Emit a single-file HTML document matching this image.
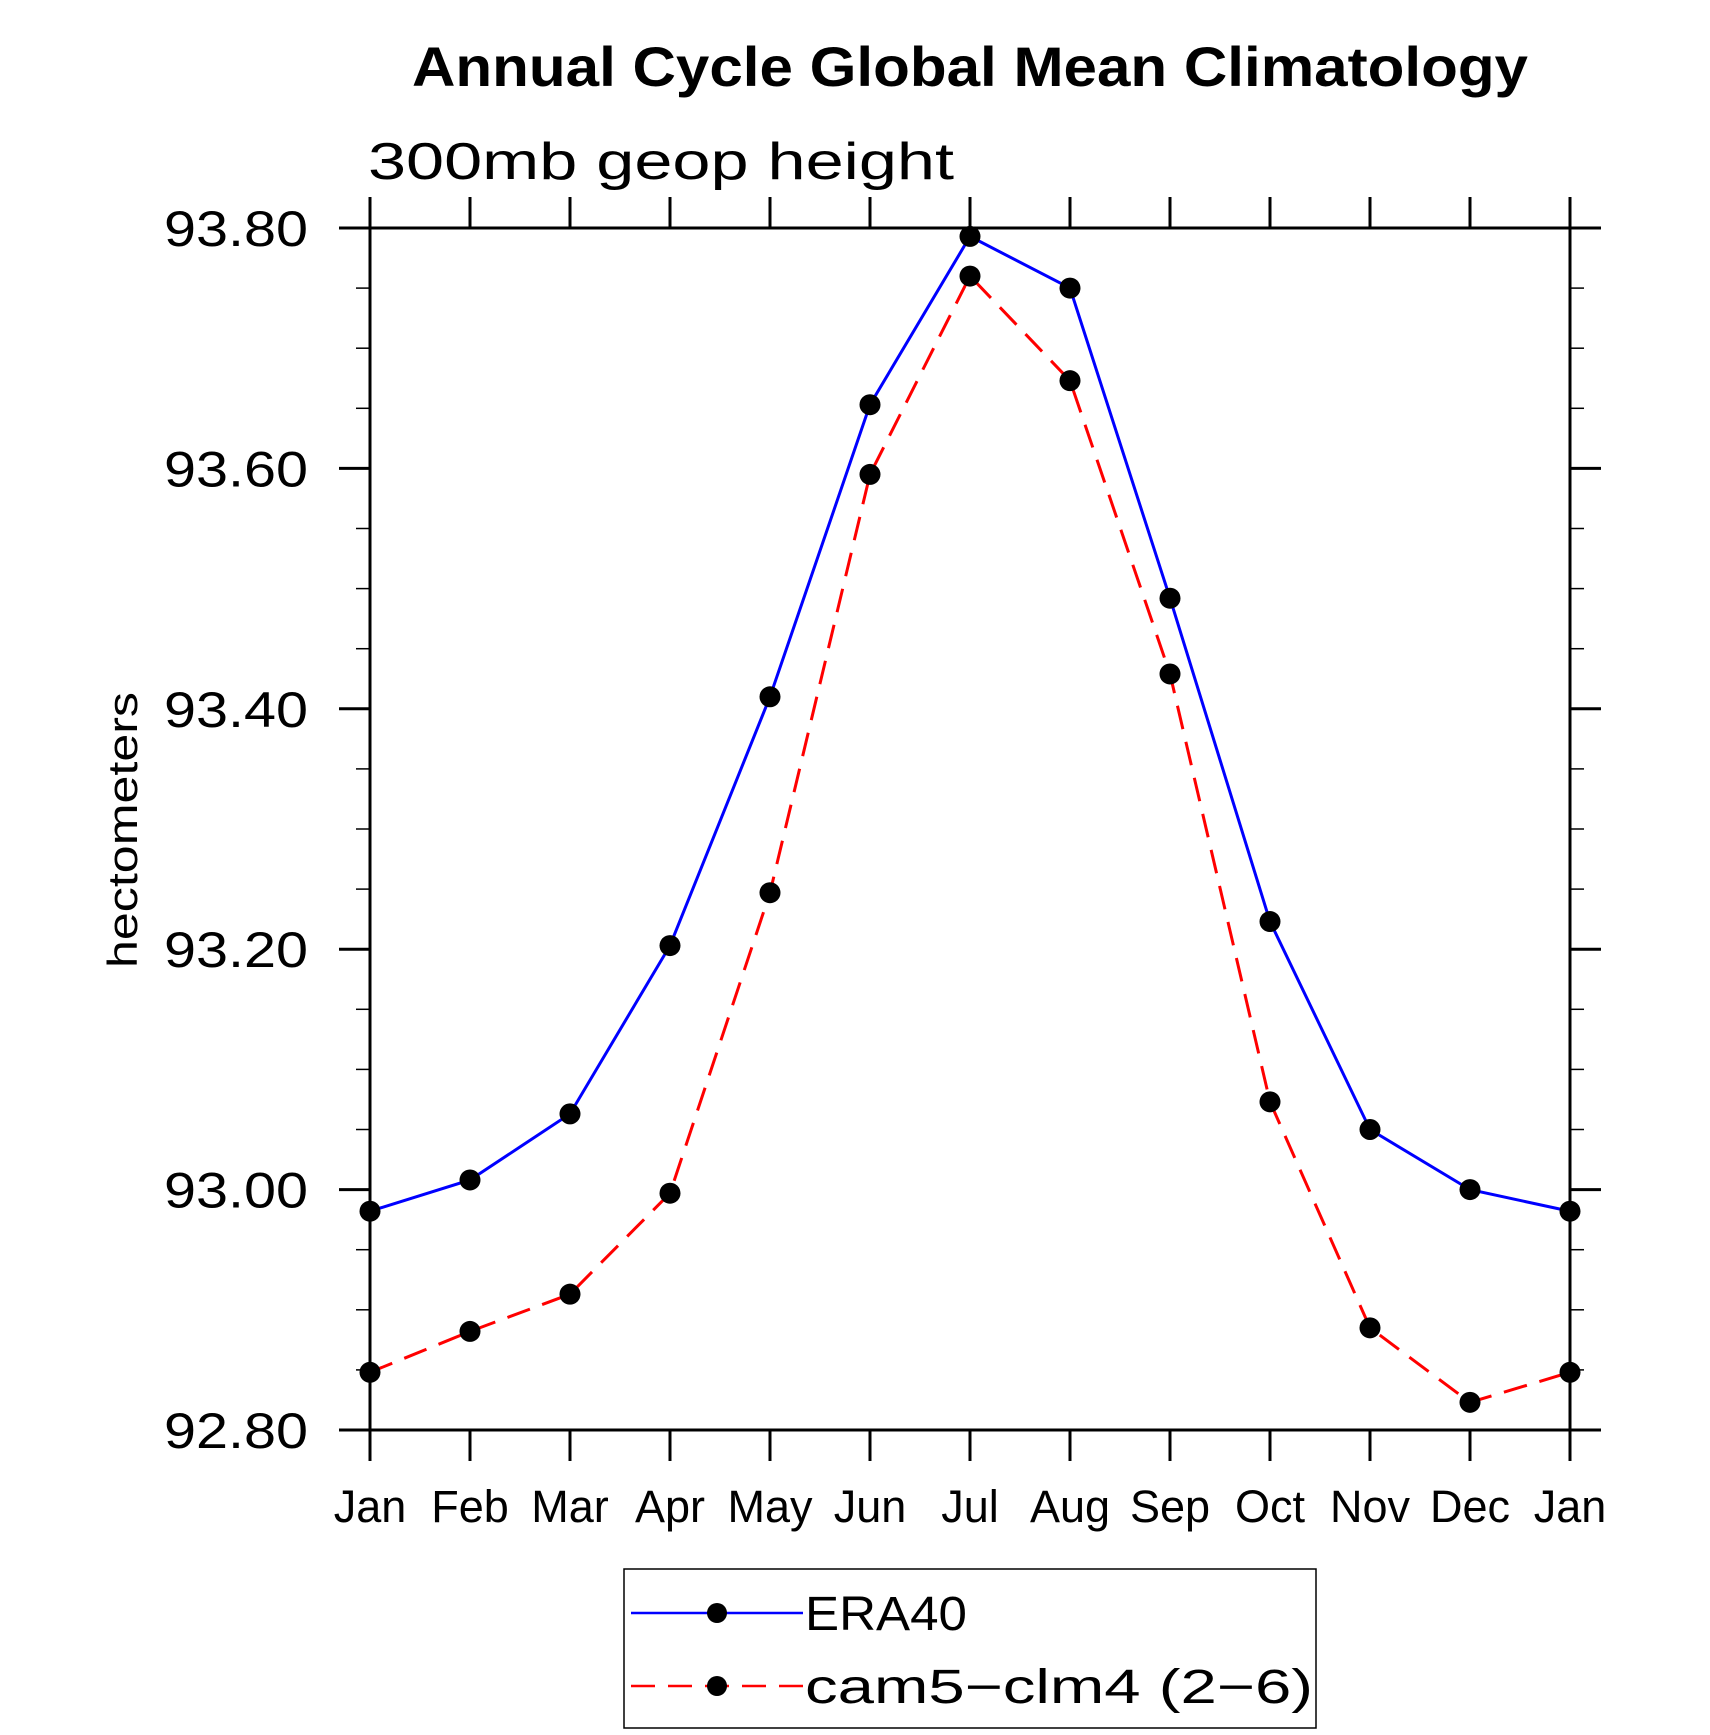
<!DOCTYPE html>
<html><head><meta charset="utf-8"><style>html,body{margin:0;padding:0;background:#fff}svg{display:block}</style></head>
<body>
<svg id="chart" width="1710" height="1735" xmlns="http://www.w3.org/2000/svg" font-family="Liberation Sans, sans-serif">
<text x="970" y="86" text-anchor="middle" font-size="56" font-weight="bold" textLength="1116" lengthAdjust="spacingAndGlyphs">Annual Cycle Global Mean Climatology</text>
<text x="368" y="179" font-size="52" font-weight="300" textLength="586" lengthAdjust="spacingAndGlyphs">300mb  geop  height</text>
<text transform="translate(137,830) rotate(-90)" text-anchor="middle" font-size="42" textLength="276" lengthAdjust="spacingAndGlyphs">hectometers</text>
<g id="axes"></g>
<g id="series"></g>
<g>
<rect x="624" y="1569" width="692" height="159" fill="none" stroke="#000" stroke-width="1.5"/>
<g>
<line x1="631" y1="1613" x2="803" y2="1613" stroke="#0000ff" stroke-width="2.5"/>
<circle cx="717" cy="1613" r="10"/>
<text x="805" y="1630" font-size="48" textLength="162" lengthAdjust="spacingAndGlyphs">ERA40</text>
</g>
<g>
<line x1="631" y1="1686" x2="803" y2="1686" stroke="#ff0000" stroke-width="2.5" stroke-dasharray="24,13"/>
<circle cx="717" cy="1686" r="10"/>
<text x="805" y="1703" font-size="48" textLength="508" lengthAdjust="spacingAndGlyphs">cam5−clm4 (2−6)</text>
</g>
</g>
</svg>
<script>
const months = ["Jan","Feb","Mar","Apr","May","Jun","Jul","Aug","Sep","Oct","Nov","Dec","Jan"];
const era40 = [92.982,93.008,93.063,93.203,93.410,93.653,93.793,93.750,93.492,93.223,93.050,93.000,92.982];
const cam5 = [92.848,92.882,92.913,92.997,93.247,93.595,93.760,93.673,93.429,93.073,92.885,92.823,92.848];
const yTicks = [92.8,93.0,93.2,93.4,93.6,93.8];
const yTickLabels = ["92.80","93.00","93.20","93.40","93.60","93.80"];

const L=370,R=1570,T=228,B=1430,ymin=92.8,ymax=93.8;
const xs=i=>L+(R-L)*i/(months.length-1);
const ys=v=>B-(B-T)*(v-ymin)/(ymax-ymin);
const NS="http://www.w3.org/2000/svg";
function mk(tag,attrs,parent){const e=document.createElementNS(NS,tag);for(const k in attrs)e.setAttribute(k,attrs[k]);parent.appendChild(e);return e;}
const ax=document.getElementById('axes');
const frame=mk('rect',{x:L,y:T,width:R-L,height:B-T,fill:'none',stroke:'#000','stroke-width':3},ax);


months.forEach((m,i)=>{
  const x=xs(i);
  const t1=mk('line',{x1:x,y1:B,x2:x,y2:B+31,stroke:'#000','stroke-width':3},ax);
  
  
  const t2=mk('line',{x1:x,y1:T,x2:x,y2:T-31,stroke:'#000','stroke-width':3},ax);
  
  
  const tx=mk('text',{x:x,y:1522,'text-anchor':'middle','font-size':45},ax);
  tx.textContent=m;
  
  
});
for(let k=0;k<=20;k++){
  const v=ymin+k*0.05;const y=ys(v);const major=k%4===0;const len=major?31:14;
  const a=mk('line',{x1:L-len,y1:y,x2:L,y2:y,stroke:'#000','stroke-width':major?3:1.5},ax);
  
  
  const b=mk('line',{x1:R,y1:y,x2:R+len,y2:y,stroke:'#000','stroke-width':major?3:1.5},ax);
  
  
}
yTicks.forEach((v,i)=>{
  const t=mk('text',{x:308,y:ys(v)+18,'text-anchor':'end','font-size':50,textLength:144,lengthAdjust:'spacingAndGlyphs'},ax);
  t.textContent=yTickLabels[i];
  
  
});
const sg=document.getElementById('series');
function draw(vals,color,dash,name){
  const pts=vals.map((v,i)=>xs(i)+','+ys(v)).join(' ');
  const pl=mk('polyline',{points:pts,fill:'none',stroke:color,'stroke-width':3},sg);
  if(dash)pl.setAttribute('stroke-dasharray',dash);
  
  
  vals.forEach((v,i)=>{
    const c=mk('circle',{cx:xs(i),cy:ys(v),r:10.5,fill:'#000'},sg);
    
    
  });
}
draw(era40,'#0000ff',null,'era40');
draw(cam5,'#ff0000','24,13','cam5');
</script>
</body></html>
